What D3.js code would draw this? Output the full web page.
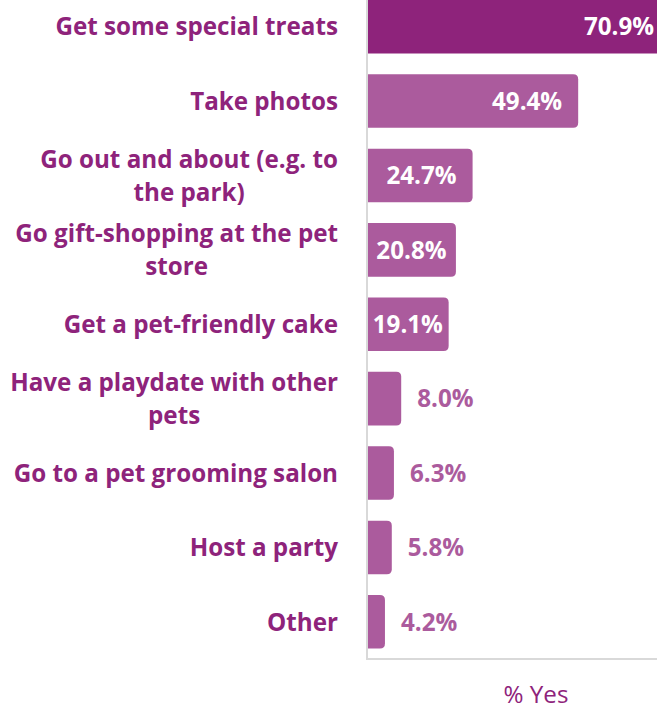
<!DOCTYPE html>
<html>
<head>
<meta charset="utf-8">
<script src="https://cdn.jsdelivr.net/npm/d3@7"></script>
<style>
  html, body { margin: 0; padding: 0; background: #fff; }
  svg { display: block; font-family: "Open Sans", sans-serif; }
</style>
</head>
<body>
<svg id="chart" width="657" height="709"></svg>
<script>
const categories = [
  "Get some special treats",
  "Take photos",
  "Go out and about (e.g. to the park)",
  "Go gift-shopping at the pet store",
  "Get a pet-friendly cake",
  "Have a playdate with other pets",
  "Go to a pet grooming salon",
  "Host a party",
  "Other"
];
const values = [70.9, 49.4, 24.7, 20.8, 19.1, 8.0, 6.3, 5.8, 4.2];
const axisTitle = "% Yes";

const darkPurple = "#8E237B";
const lightPurple = "#AB5B9D";
const labelColor = "#8E237B";
const axisColor = "#D9D9D9";
const fontSize = 24.2;

const svg = d3.select("#chart");
const x0 = 367;
const x = d3.scaleLinear().domain([0, 80]).range([x0, x0 + 80 * 4.275]);
const y = d3.scaleBand().domain(categories).range([-10.5, 659])
  .paddingInner(0.28).paddingOuter(0.14);

const data = categories.map((c, i) => ({ cat: c, val: values[i], i }));

// bars with rounded right end
function barPath(d) {
  const x1 = x(0), x2 = x(d.val), y1 = y(d.cat), h = y.bandwidth();
  const r = Math.min(5, (x2 - x1) / 2);
  return `M${x1},${y1}H${x2 - r}Q${x2},${y1} ${x2},${y1 + r}V${y1 + h - r}Q${x2},${y1 + h} ${x2 - r},${y1 + h}H${x1}Z`;
}
svg.append("g").selectAll("path").data(data).join("path")
  .attr("d", barPath)
  .attr("fill", d => d.i === 0 ? darkPurple : lightPurple);

// axes lines
svg.append("line").attr("x1", x0).attr("x2", x0).attr("y1", 0).attr("y2", 660)
  .attr("stroke", axisColor).attr("stroke-width", 2);
svg.append("line").attr("x1", x0).attr("x2", 657).attr("y1", 659).attr("y2", 659)
  .attr("stroke", axisColor).attr("stroke-width", 2);

// value labels
const vl = svg.append("g").attr("font-weight", 700).attr("font-size", fontSize);
data.forEach(d => {
  const txt = d.val.toFixed(1) + "%";
  const t = vl.append("text").text(txt).attr("y", y(d.cat) + y.bandwidth() / 2).attr("dy", "0.36em");
  const w = t.node().getComputedTextLength();
  const bw = x(d.val) - x(0);
  if (bw - w >= 32) {
    t.attr("x", x(d.val) - 16).attr("text-anchor", "end").attr("fill", "#fff");
  } else if (bw - w >= 2) {
    t.attr("x", (x(0) + x(d.val)) / 2).attr("text-anchor", "middle").attr("fill", "#fff");
  } else {
    t.attr("x", x(d.val) + 16).attr("text-anchor", "start").attr("fill", lightPurple);
  }
});

// category labels with wrapping (block right-aligned, lines centred)
const maxW = 335;
const lineH = 33;
const labelRight = 338;
const cl = svg.append("g").attr("font-weight", 700).attr("font-size", fontSize)
  .attr("fill", labelColor);
const measure = cl.append("text").attr("visibility", "hidden");
function textW(s) { measure.text(s); return measure.node().getComputedTextLength(); }
function wrap(s) {
  const words = s.split(" ");
  const lines = [];
  let cur = "";
  words.forEach(w => {
    const test = cur ? cur + " " + w : w;
    if (textW(test) > maxW && cur) { lines.push(cur); cur = w; }
    else cur = test;
  });
  lines.push(cur);
  return lines;
}
data.forEach(d => {
  const lines = wrap(d.cat);
  const blockW = d3.max(lines, textW);
  const cx = labelRight - blockW / 2;
  const cy = y(d.cat) + y.bandwidth() / 2;
  const y0 = cy - (lines.length - 1) * lineH / 2;
  lines.forEach((ln, k) => {
    cl.append("text").attr("x", cx).attr("y", y0 + k * lineH).attr("dy", "0.36em")
      .attr("text-anchor", "middle").text(ln);
  });
});
measure.remove();

// axis title
svg.append("text").attr("x", 536).attr("y", 703).attr("text-anchor", "middle")
  .attr("font-size", fontSize).attr("fill", labelColor).text(axisTitle);
</script>
</body>
</html>
